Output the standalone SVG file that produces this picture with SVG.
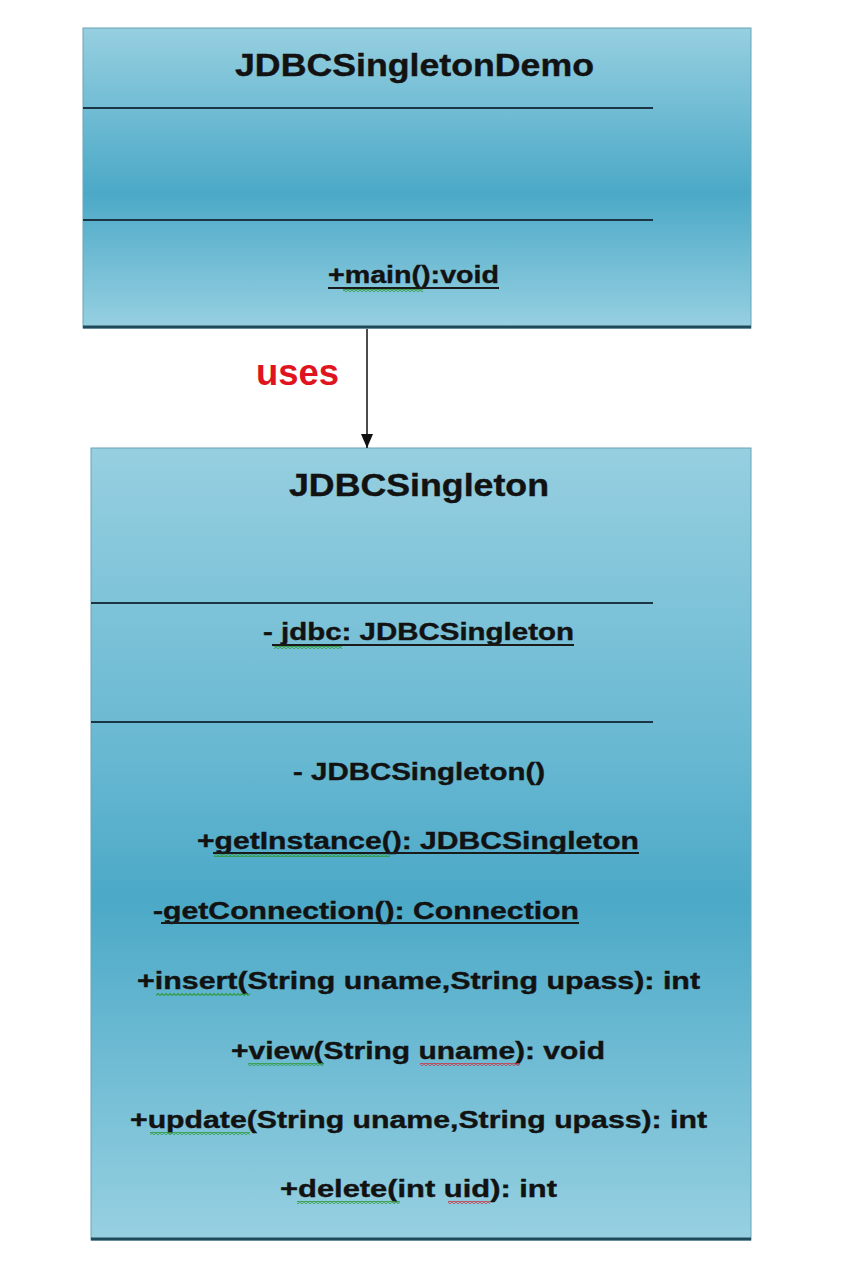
<svg xmlns="http://www.w3.org/2000/svg" width="843" height="1272" viewBox="0 0 843 1272">
<defs>
<linearGradient id="g1" x1="0" y1="0" x2="0" y2="1">
<stop offset="0" stop-color="#96cfe0"/>
<stop offset="0.55" stop-color="#4ba9c7"/>
<stop offset="1" stop-color="#97d0e1"/>
</linearGradient>
<linearGradient id="g2" x1="0" y1="0" x2="0" y2="1">
<stop offset="0" stop-color="#96cfe0"/>
<stop offset="0.4" stop-color="#66b7d1"/>
<stop offset="0.57" stop-color="#4ba9c7"/>
<stop offset="1" stop-color="#97d0e1"/>
</linearGradient>
<pattern id="wg" width="4" height="3" patternUnits="userSpaceOnUse">
<path d="M0 2.5 L2 0.5 L4 2.5" fill="none" stroke="#2f9a3a" stroke-width="1.1"/>
</pattern>
<pattern id="wr" width="4" height="3" patternUnits="userSpaceOnUse">
<path d="M0 2.5 L2 0.5 L4 2.5" fill="none" stroke="#c83a48" stroke-width="1.1"/>
</pattern>
<marker id="arr" markerWidth="14" markerHeight="12" refX="14" refY="6" orient="auto" markerUnits="userSpaceOnUse">
<path d="M0 0 L14 6 L0 12 Z" fill="#111"/>
</marker>
</defs>
<style>
.box{stroke:#6aa4b8;stroke-width:1}
.bot{stroke:#1f4a5a;stroke-width:3}
.div{stroke:#1c3544;stroke-width:2}
.t{font-family:"Liberation Sans",Arial,sans-serif;font-weight:bold;fill:#121212;stroke:#121212;stroke-width:0.4}
.title{font-size:31px}
.m{font-size:24px}
.ul{stroke:#1a1a1a;stroke-width:2}
</style>
<rect width="843" height="1272" fill="#ffffff"/>

<g id="JDBCSingletonDemo">
<rect class="box" x="83" y="28" width="668" height="300" fill="url(#g1)"/>
<line class="bot" x1="83" y1="327" x2="751" y2="327"/>
<line class="div" x1="83" y1="108" x2="653" y2="108"/>
<line class="div" x1="83" y1="220" x2="653" y2="220"/>
<text class="t title" x="235" y="76" textLength="359" lengthAdjust="spacingAndGlyphs">JDBCSingletonDemo</text>
<text class="t m" x="328" y="283" textLength="171" lengthAdjust="spacingAndGlyphs">+main():void</text>
<line class="ul" x1="328" y1="288" x2="499" y2="288"/>
<rect x="343" y="289" width="80" height="3" fill="url(#wg)"/>
</g>

<g id="JDBCSingleton">
<rect class="box" x="91" y="448" width="660" height="792" fill="url(#g2)"/>
<line class="bot" x1="91" y1="1239" x2="751" y2="1239"/>
<line class="div" x1="91" y1="603" x2="653" y2="603"/>
<line class="div" x1="91" y1="722" x2="653" y2="722"/>
<text class="t title" x="289" y="496" textLength="260" lengthAdjust="spacingAndGlyphs">JDBCSingleton</text>
<text class="t m" x="263" y="640" textLength="311" lengthAdjust="spacingAndGlyphs">- jdbc: JDBCSingleton</text>
<line class="ul" x1="272" y1="645" x2="574" y2="645"/>
<rect x="274" y="646" width="68" height="3" fill="url(#wg)"/>
<text class="t m" x="293" y="780" textLength="252" lengthAdjust="spacingAndGlyphs">- JDBCSingleton()</text>
<text class="t m" x="197" y="849" textLength="442" lengthAdjust="spacingAndGlyphs">+getInstance(): JDBCSingleton</text>
<line class="ul" x1="213" y1="853" x2="639" y2="853"/>
<rect x="214" y="854" width="176" height="3" fill="url(#wg)"/>
<text class="t m" x="153" y="919" textLength="426" lengthAdjust="spacingAndGlyphs">-getConnection(): Connection</text>
<line class="ul" x1="161" y1="923" x2="579" y2="923"/>
<text class="t m" x="137" y="989" textLength="563" lengthAdjust="spacingAndGlyphs">+insert(String uname,String upass): int</text>
<rect x="156" y="993" width="94" height="3" fill="url(#wg)"/>
<text class="t m" x="231" y="1059" textLength="374" lengthAdjust="spacingAndGlyphs">+view(String uname): void</text>
<rect x="248" y="1063" width="75" height="3" fill="url(#wg)"/>
<rect x="420" y="1063" width="100" height="3" fill="url(#wr)"/>
<text class="t m" x="130" y="1128" textLength="577" lengthAdjust="spacingAndGlyphs">+update(String uname,String upass): int</text>
<rect x="150" y="1132" width="100" height="3" fill="url(#wg)"/>
<text class="t m" x="280" y="1197" textLength="277" lengthAdjust="spacingAndGlyphs">+delete(int uid): int</text>
<rect x="297" y="1201" width="103" height="3" fill="url(#wg)"/>
<rect x="448" y="1201" width="42" height="3" fill="url(#wr)"/>
</g>

<g id="connectors">
<line x1="367" y1="329" x2="367" y2="448" stroke="#111" stroke-width="1.5" marker-end="url(#arr)"/>
<text x="256" y="385" font-family="Liberation Sans, Arial, sans-serif" font-weight="bold" font-size="37" textLength="83" lengthAdjust="spacingAndGlyphs" fill="#e01420">uses</text>
</g>
</svg>
